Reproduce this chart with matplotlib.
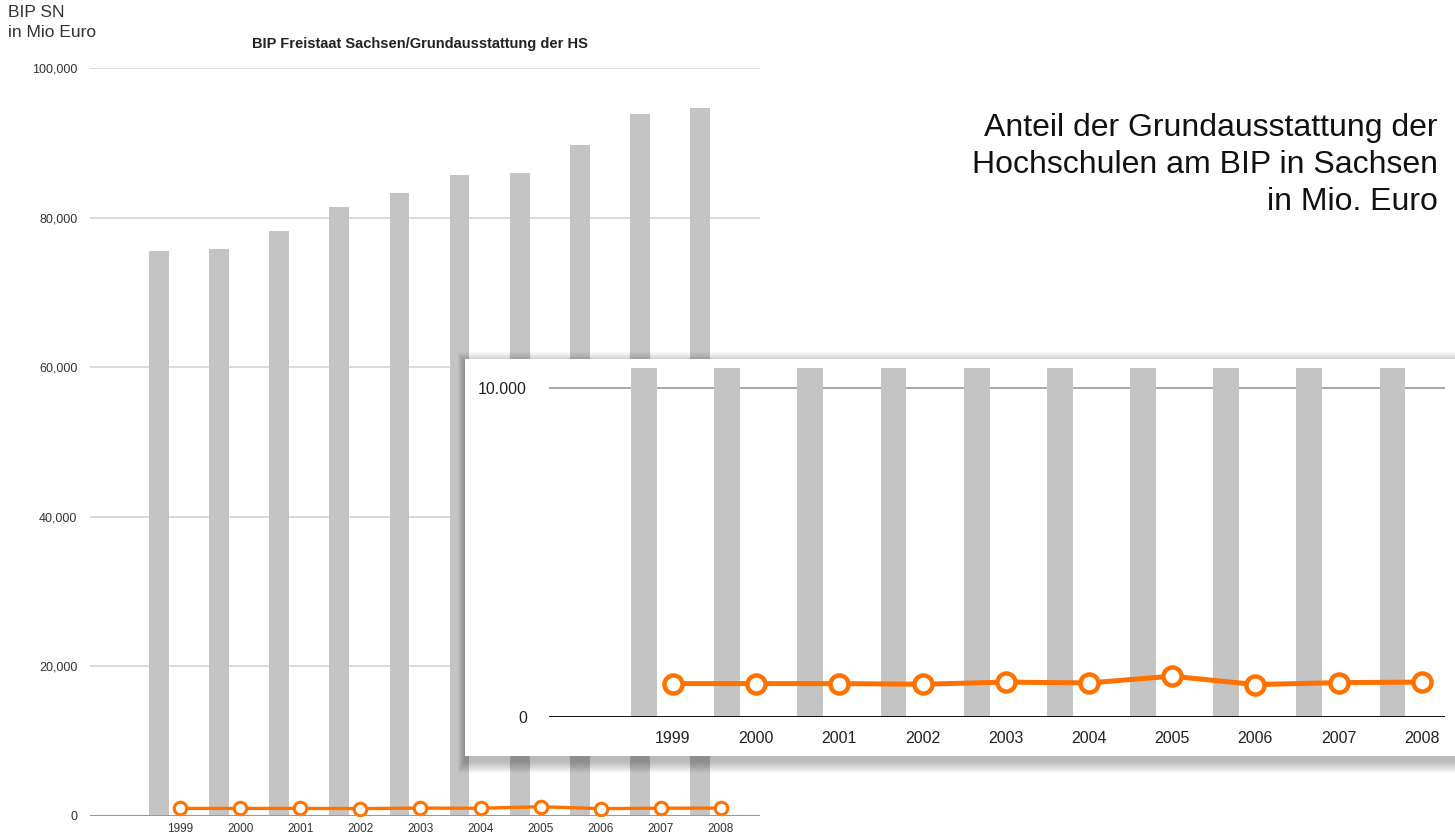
import numpy as np
import matplotlib
matplotlib.use("Agg")
import matplotlib.pyplot as plt
from matplotlib.patches import Rectangle
from matplotlib.ticker import FuncFormatter

plt.rcParams['font.family'] = ['Liberation Sans', 'DejaVu Sans']

# data (Mio Euro)
years = ['1999', '2000', '2001', '2002', '2003', '2004', '2005', '2006', '2007', '2008']
bip = [75600, 75800, 78200, 81400, 83300, 85700, 85900, 89700, 93800, 94700]
grundausstattung = [1015, 1015, 1015, 995, 1060, 1035, 1240, 985, 1045, 1060]

title = 'BIP Freistaat Sachsen/Grundausstattung der HS'
ylabel = 'BIP SN\nin Mio Euro'
note = 'Anteil der Grundausstattung der\nHochschulen am BIP in Sachsen\nin Mio. Euro'

bar_col = '#c4c4c4'
orange = '#ff7200'
W, H = 1455, 835

x = np.arange(len(years))
bar_off = 0.35
bar_w = 0.33

fig = plt.figure(figsize=(W / 100, H / 100), dpi=100)


def px_box(x0, y0, x1, y1):
    # pixel box (top-left origin) -> figure fraction [l, b, w, h]
    return [x0 / W, 1 - y1 / H, (x1 - x0) / W, (y1 - y0) / H]


# ---- main chart ----
ax = fig.add_axes(px_box(90, 68, 760, 816))
ax.set_zorder(0)
ax.bar(x - bar_off, bip, width=bar_w, color=bar_col, zorder=2)
ax.plot(x, grundausstattung, color=orange, lw=2.4, marker='o', ms=9,
        mfc='white', mec=orange, mew=2.2, zorder=3)
ax.set_ylim(0, 100000)
ax.set_xlim(-1.5, 9.65)
ax.set_yticks(np.arange(0, 100001, 20000))
ax.yaxis.set_major_formatter(FuncFormatter(lambda v, p: f'{int(v):,}'))
ax.grid(axis='y', color='#d4d4d4', lw=1.2, zorder=1)
ax.set_xticks(x)
ax.set_xticklabels(years)
for s in ax.spines.values():
    s.set_visible(False)
ax.axhline(0, color='#9a9a9a', lw=1.5, zorder=4)
ax.tick_params(axis='y', length=0, pad=9, labelsize=9, labelcolor='#333333')
ax.tick_params(axis='x', length=0, pad=5, labelsize=8.5, labelcolor='#333333')

fig.text(8 / W, 1 - 5 / H, ylabel, ha='left', va='top', fontsize=12.5,
         color='#333333', linespacing=1.4)
fig.text(420 / W, 1 - 44 / H, title, ha='center', va='center', fontsize=10.5,
         fontweight='bold', color='#222222')

# ---- inset panel with soft shadow ----
px0, py0, px1, py1 = 465, 359, 1465, 756
for i in range(12):
    g = 12 - i
    fig.add_artist(Rectangle(((px0 - g * 0.6) / W, 1 - (py1 + g + 5) / H),
                             (px1 - px0 + 1.2 * g) / W, (py1 - py0 + 2 * g) / H,
                             transform=fig.transFigure, facecolor='black',
                             edgecolor='none', alpha=0.025, zorder=1))
fig.add_artist(Rectangle((px0 / W, 1 - py1 / H), (px1 - px0) / W, (py1 - py0) / H,
                         transform=fig.transFigure, facecolor='white',
                         edgecolor='none', zorder=2))

ax2 = fig.add_axes(px_box(549, 368, 1445, 717))
ax2.set_zorder(3)
ax2.patch.set_visible(False)
ax2.bar(x - bar_off, bip, width=0.31, color=bar_col, zorder=2)
ax2.plot(x, grundausstattung, color=orange, lw=3.6, marker='o', ms=13,
         mfc='white', mec=orange, mew=3.2, zorder=3)
ax2.set_ylim(0, 10600)
ax2.set_xlim(-1.49, 9.28)
ax2.set_yticks([0, 10000])
ax2.yaxis.set_major_formatter(FuncFormatter(lambda v, p: f'{int(v):,}'.replace(',', '.')))
ax2.grid(axis='y', color='#9a9a9a', lw=1.2, zorder=1)
ax2.set_xticks(x)
ax2.set_xticklabels(years)
for s in ax2.spines.values():
    s.set_visible(False)
ax2.axhline(0, color='#111111', lw=1.4, zorder=4)
ax2.tick_params(axis='y', length=0, pad=16, labelsize=11.5, labelcolor='#222222')
ax2.tick_params(axis='x', length=0, pad=10, labelsize=11.5, labelcolor='#222222')

fig.text(1438 / W, 1 - 113 / H, note, ha='right', va='top', fontsize=23,
         color='#111111', linespacing=1.3)

fig.savefig('out.png', dpi=100)
